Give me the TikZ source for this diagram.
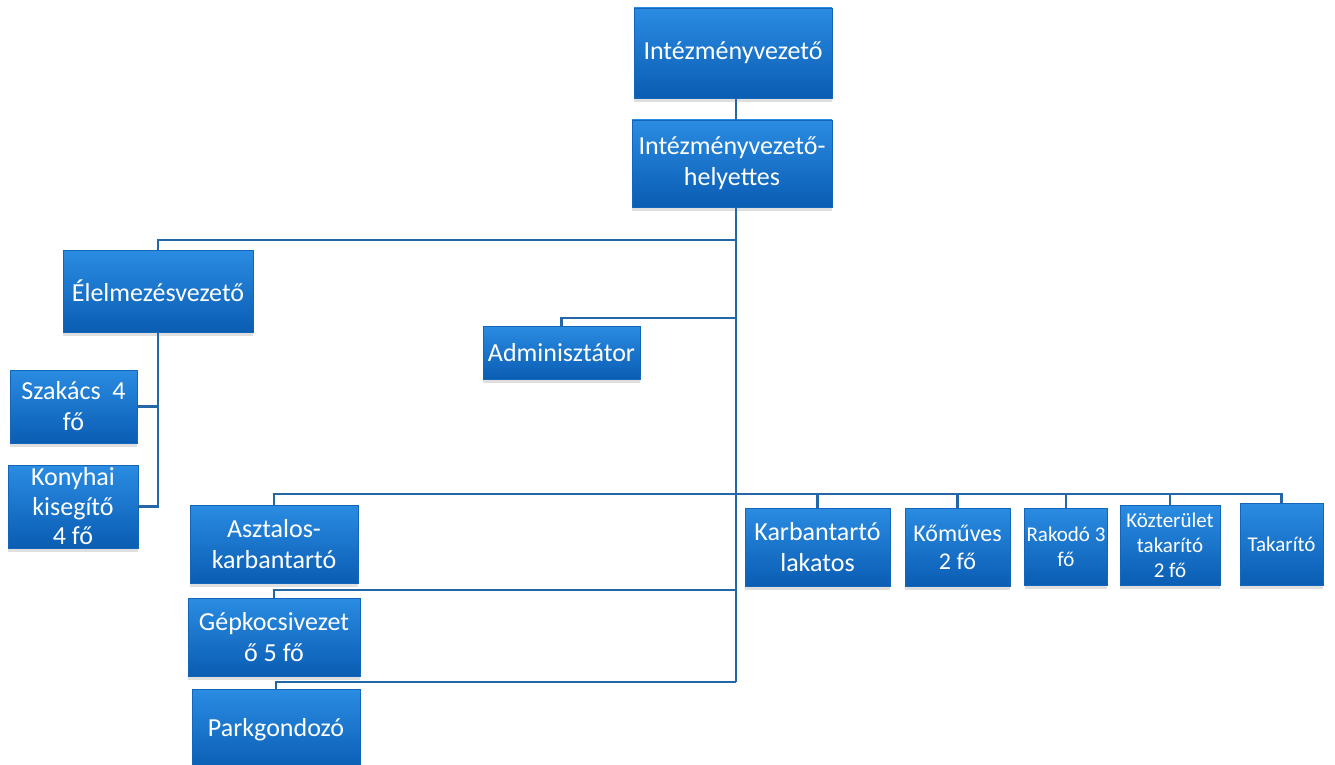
\documentclass[tikz,border=0pt]{standalone}
\usepackage{fontspec}
\setmainfont{Carlito}
\usetikzlibrary{shadows}
\definecolor{boxtop}{HTML}{2A8CE2}
\definecolor{boxbot}{HTML}{0A5DB3}
\definecolor{boxedge}{HTML}{1466B8}
\definecolor{linec}{HTML}{2466A6}
\tikzset{
  orgbox/.style={rectangle, top color=boxtop, bottom color=boxbot, draw=boxedge, line width=0.8pt,
    text=white, align=center, inner sep=2pt,
    font=\fontsize{26}{31}\selectfont,
    drop shadow={shadow xshift=0pt, shadow yshift=-4pt, fill=gray, opacity=0.25}},
  smallbox/.style={orgbox, font=\fontsize{21}{25}\selectfont},
  midbox/.style={orgbox, font=\fontsize{24}{28}\selectfont},
  conn/.style={draw=linec, line width=2.4pt},
}
\begin{document}
\begin{tikzpicture}[x=1pt,y=-1pt]
\useasboundingbox (0,0) rectangle (1335,765);
\fill[white] (0,0) rectangle (1335,765);
% nodes
\node[orgbox, minimum width=198pt, minimum height=90pt] (iv) at (733,53) {Intézményvezető};
\node[orgbox, minimum width=200pt, minimum height=87pt] (ivh) at (732,163.5) {Intézményvezető-\\helyettes};
\node[orgbox, minimum width=190pt, minimum height=82pt] (elv) at (158,291) {Élelmezésvezető};
\node[orgbox, minimum width=127pt, minimum height=73pt] (szak) at (73.5,406.5) {Szakács\ \ 4\\fő};
\node[orgbox, minimum width=130pt, minimum height=83pt, font=\fontsize{26}{29.5}\selectfont] (kony) at (73,506.5) {Konyhai\\kisegítő\\4 fő};
\node[orgbox, minimum width=157pt, minimum height=53pt] (adm) at (561.5,352.5) {Adminisztátor};
\node[orgbox, minimum width=168pt, minimum height=78pt] (aszt) at (274,544) {Asztalos-\\karbantartó};
\node[orgbox, minimum width=172pt, minimum height=78pt] (gep) at (274,637) {Gépkocsivezet\\ő 5 fő};
\node[orgbox, minimum width=168pt, minimum height=82pt] (park) at (276,730) {Parkgondozó};
\node[orgbox, minimum width=145pt, minimum height=78pt] (karb) at (817.5,547) {Karbantartó\\lakatos};
\node[midbox, minimum width=105pt, minimum height=78pt] (kom) at (957.5,547) {Kőműves\\2 fő};
\node[smallbox, minimum width=82pt, minimum height=77pt] (rak) at (1066,546.5) {Rakodó 3\\fő};
\node[smallbox, minimum width=100pt, minimum height=80pt] (koz) at (1170,545) {Közterület\\takarító\\2 fő};
\node[smallbox, minimum width=83pt, minimum height=82pt] (tak) at (1281.5,544) {Takarító};
% junction points on the trunk
\coordinate (tx) at (736,0);
\coordinate (b1) at (736,240);
\coordinate (b2) at (736,318);
\coordinate (bus) at (736,494);
\coordinate (g1) at (736,590);
\coordinate (p1) at (736,682);
% connectors
\draw[conn] (iv.south -| tx) -- (ivh.north -| tx);
\draw[conn] (ivh.south -| tx) -- (bus);
\draw[conn] (elv.north) |- (b1);
\draw[conn] (adm.north) |- (b2);
\draw[conn] (elv.south) |- (szak.east);
\draw[conn] (elv.south) |- (kony.east);
\draw[conn] (aszt.north) |- (bus) -| (tak.north);
\draw[conn] (bus) -| (karb.north);
\draw[conn] (bus) -| (kom.north);
\draw[conn] (bus) -| (rak.north);
\draw[conn] (bus) -| (koz.north);
\draw[conn] (bus) -- (p1);
\draw[conn] (gep.north) |- (g1);
\draw[conn] (park.north) |- (p1);
\end{tikzpicture}
\end{document}
